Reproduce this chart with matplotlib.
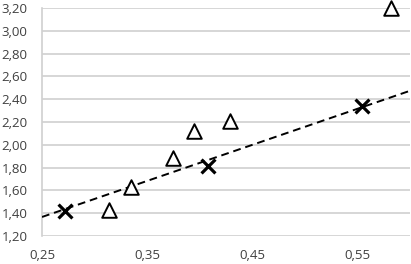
import matplotlib
matplotlib.use('Agg')
import matplotlib.pyplot as plt
import numpy as np
from matplotlib.ticker import FuncFormatter

# series
tri_x = [0.314, 0.335, 0.375, 0.395, 0.429, 0.582]
tri_y = [1.43, 1.63, 1.88, 2.12, 2.21, 3.20]
cross_x = [0.272, 0.408, 0.554]
cross_y = [1.42, 1.81, 2.34]

# dashed trend line as it appears in the picture
trend_slope = 3.16
trend_intercept = 0.577

x_ticks = [0.25, 0.35, 0.45, 0.55]
y_ticks = [1.20, 1.40, 1.60, 1.80, 2.00, 2.20, 2.40, 2.60, 2.80, 3.00, 3.20]


def comma(v, pos):
    return f"{v:.2f}".replace('.', ',')


plt.rcParams['font.family'] = ['Open Sans', 'DejaVu Sans']

fig = plt.figure(figsize=(4.11, 2.64), dpi=100)
ax = fig.add_axes([0.1022, 0.106, 0.895, 0.864])

xl = np.array([0.25, 0.60])
ax.plot(xl, trend_slope * xl + trend_intercept, color='black',
        linestyle=(0, (4, 2.5)), linewidth=1.4, zorder=3)

ax.scatter(tri_x, tri_y, marker='^', s=110, facecolors='white',
           edgecolors='black', linewidths=1.4, zorder=4, clip_on=False)
ax.scatter(cross_x, cross_y, marker='x', s=100, color='black',
           linewidths=2.3, zorder=5, clip_on=False)

ax.set_xlim(0.25, 0.60)
ax.set_ylim(1.20, 3.20)
ax.set_xticks(x_ticks)
ax.set_yticks(y_ticks)
ax.xaxis.set_major_formatter(FuncFormatter(comma))
ax.yaxis.set_major_formatter(FuncFormatter(comma))
ax.tick_params(length=0, labelsize=9.5, colors='#404040')
ax.tick_params(axis='y', pad=10.5)
ax.tick_params(axis='x', pad=9)

ax.grid(axis='y', color='#d0d0d0', linewidth=1.2)
ax.set_axisbelow(True)
for s in ['top', 'right', 'bottom']:
    ax.spines[s].set_visible(False)
ax.spines['left'].set_color('#d0d0d0')
ax.spines['left'].set_linewidth(1.2)

fig.savefig('out.png', dpi=100)
